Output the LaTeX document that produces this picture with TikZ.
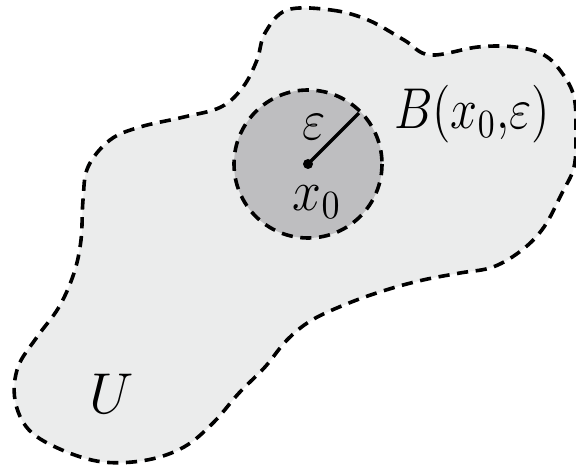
\documentclass[tikz,border=0pt]{standalone}
\usepackage{graphicx}
\usetikzlibrary{calc}
\definecolor{outerfill}{RGB}{235,236,236}
\definecolor{innerfill}{RGB}{190,190,192}
\tikzset{
  setline/.style={draw=black, line width=0.9pt, dash pattern=on 2.8pt off 1.9pt},
  lbl/.style={inner sep=0pt, font=\fontsize{14.5}{17}\selectfont},
}
\begin{document}
\begin{tikzpicture}[x=0.25pt,y=-0.25pt]
\useasboundingbox (0,0) rectangle (576,468);
% region U
\path[setline, fill=outerfill] plot[smooth cycle, tension=0.6] coordinates {
 (287,10) (331,10) (368,20) (404,40) (430,55) (478,47) (515,47) (544,55)
 (562,73) (574,97) (576,133) (574,167) (562,193) (544,227) (522,250)
 (493,267) (460,273) (423,280) (386,290) (349,303) (312,320) (287,340)
 (265,367) (239,393) (213,423) (184,447) (147,460) (103,462) (62,450)
 (29,430) (15,400) (18,367) (37,337) (59,307) (74,273) (81,240) (83,200)
 (88,167) (110,140) (140,127) (184,117) (221,107) (243,87) (257,60)
 (265,33)};
% ball
\coordinate (x0) at (308,164);
\draw[setline, fill=innerfill] (x0) circle[radius=74];
\path (x0) ++(-45:72) coordinate (rim);
\draw[line width=0.8pt] (x0) -- (rim);
\fill (x0) circle[radius=5];
\node[lbl] (eps) at (314,127) {\scalebox{0.88}[1]{$\varepsilon$}};
\node[lbl] (x0lbl) at (317,202) {\scalebox{0.9}[1]{$x_0$}};
\node[lbl] (ball) at (472,114) {\scalebox{0.84}[1]{$B(x_0,\!\varepsilon)$}};
\node[lbl] (U) at (112,394) {$U$};
\end{tikzpicture}
\end{document}
